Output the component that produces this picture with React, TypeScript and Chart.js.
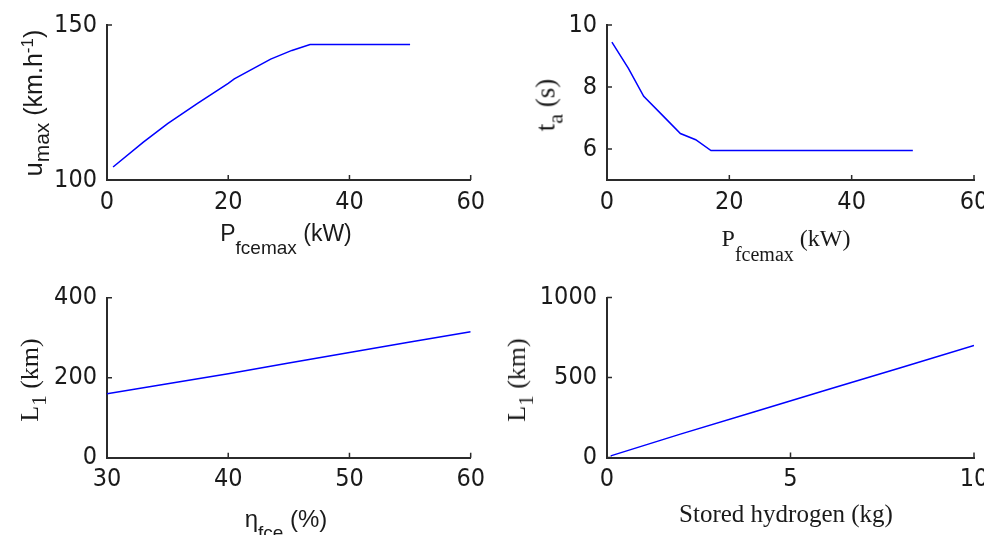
import React, { useEffect, useRef } from "react";
import { Chart, registerables } from "chart.js";

Chart.register(...registerables);

// ---------- data ----------
const pfcMaxSpeedX = [1, 6, 10, 15, 20, 21, 27, 30.5, 33.5, 50];
const maxSpeedY = [104.2, 112.2, 118.2, 124.8, 131.2, 132.6, 139, 141.8, 143.7, 143.7];

const pfcAccelX = [0.8, 3.5, 6, 9, 12, 14.5, 17, 50];
const accelTimeY = [9.45, 8.6, 7.7, 7.1, 6.5, 6.3, 5.95, 5.95];

const efficiencyX = [30, 35, 40, 45, 50, 55, 60];
const rangeEffY = [160, 185, 210, 237, 263, 289, 315];

const hydrogenX = [0.1, 2, 4, 6, 8, 10];
const rangeH2Y = [10, 146, 284, 423, 561, 700];

const tlXTicks = [0, 20, 40, 60];
const tlYTicks = [100, 150];
const trXTicks = [0, 20, 40, 60];
const trYTicks = [6, 8, 10];
const trYRange = [5, 10];
const blXTicks = [30, 40, 50, 60];
const blYTicks = [0, 200, 400];
const brXTicks = [0, 5, 10];
const brYTicks = [0, 500, 1000];

// ---------- styling ----------
const TICK_FONT = "'Liberation Sans Narrow', 'Arial Narrow', 'DejaVu Sans Condensed', sans-serif";
const SANS = "'Liberation Sans', Arial, Helvetica, sans-serif";
const SERIF = "'Liberation Serif', 'Times New Roman', serif";
const AXIS_COLOR = "#2b2b2b";
const TEXT_COLOR = "#1a1a1a";
const LINE_COLOR = "#0000ff";

const inwardTicks = {
  id: "inwardTicks",
  afterDraw(chart: any) {
    const { ctx, chartArea } = chart;
    const len = 5;
    ctx.save();
    ctx.strokeStyle = AXIS_COLOR;
    ctx.lineWidth = 1.5;
    ctx.beginPath();
    const xs = chart.scales.x;
    xs.ticks.forEach((t: any) => {
      const px = xs.getPixelForValue(t.value);
      ctx.moveTo(px, chartArea.bottom);
      ctx.lineTo(px, chartArea.bottom - len);
    });
    const ys = chart.scales.y;
    ys.ticks.forEach((t: any) => {
      const py = ys.getPixelForValue(t.value);
      ctx.moveTo(chartArea.left, py);
      ctx.lineTo(chartArea.left + len, py);
    });
    ctx.stroke();
    ctx.restore();
  },
};

type PanelProps = {
  left: number;
  top: number;
  width: number;
  height: number;
  area: { l: number; t: number; r: number; b: number };
  xs: number[];
  ys: number[];
  xTicks: number[];
  yTicks: number[];
  yRange?: number[];
};

function Panel(p: PanelProps) {
  const ref = useRef<HTMLCanvasElement | null>(null);
  useEffect(() => {
    if (!ref.current) return;
    const yAxisW = p.area.l - p.left;
    const padTop = p.area.t - p.top;
    const padRight = p.left + p.width - p.area.r;
    const xAxisH = p.top + p.height - p.area.b;
    const tickFont = { family: TICK_FONT, size: 25 };
    const yMin = p.yRange ? p.yRange[0] : p.yTicks[0];
    const yMax = p.yRange ? p.yRange[1] : p.yTicks[p.yTicks.length - 1];
    const chart = new Chart(ref.current, {
      type: "line",
      data: {
        datasets: [
          {
            data: p.xs.map((x, i) => ({ x, y: p.ys[i] })),
            borderColor: LINE_COLOR,
            borderWidth: 1.5,
            pointRadius: 0,
            fill: false,
            tension: 0,
          },
        ],
      },
      options: {
        animation: false,
        responsive: false,
        maintainAspectRatio: false,
        devicePixelRatio: 1,
        layout: { padding: { top: padTop, right: padRight, left: 0, bottom: 0 } },
        plugins: { legend: { display: false }, tooltip: { enabled: false } },
        scales: {
          x: {
            type: "linear",
            min: p.xTicks[0],
            max: p.xTicks[p.xTicks.length - 1],
            afterBuildTicks: (s: any) => {
              s.ticks = p.xTicks.map((v) => ({ value: v }));
            },
            afterFit: (s: any) => {
              s.height = xAxisH;
            },
            grid: { display: false, drawTicks: false },
            border: { display: true, color: AXIS_COLOR, width: 2 },
            ticks: {
              font: tickFont,
              color: TEXT_COLOR,
              padding: 7,
              maxRotation: 0,
              autoSkip: false,
              callback: (v: any) => String(v),
            },
          },
          y: {
            type: "linear",
            min: yMin,
            max: yMax,
            afterBuildTicks: (s: any) => {
              s.ticks = p.yTicks.map((v) => ({ value: v }));
            },
            afterFit: (s: any) => {
              s.width = yAxisW;
            },
            grid: { display: false, drawTicks: false },
            border: { display: true, color: AXIS_COLOR, width: 2 },
            ticks: {
              font: tickFont,
              color: TEXT_COLOR,
              padding: 10,
              autoSkip: false,
              callback: (v: any) => String(v),
            },
          },
        },
      },
      plugins: [inwardTicks],
    } as any);
    return () => chart.destroy();
  }, []);
  return (
    <canvas
      ref={ref}
      width={p.width}
      height={p.height}
      style={{ position: "absolute", left: p.left, top: p.top, width: p.width, height: p.height }}
    />
  );
}

type LabelProps = {
  cx: number;
  cy: number;
  rotate?: boolean;
  family: string;
  size: number;
  children: React.ReactNode;
};

function Label({ cx, cy, rotate, family, size, children }: LabelProps) {
  return (
    <div
      style={{
        position: "absolute",
        left: cx,
        top: cy,
        transform: `translate(-50%, -50%)${rotate ? " rotate(-90deg)" : ""}`,
        fontFamily: family,
        fontSize: size,
        lineHeight: 1,
        whiteSpace: "nowrap",
        color: TEXT_COLOR,
      }}
    >
      {children}
    </div>
  );
}

const Sub = ({ size, drop, children }: { size: number; drop: number; children: React.ReactNode }) => (
  <span style={{ position: "relative", top: drop, fontSize: size }}>{children}</span>
);

export default function App() {
  return (
    <div
      style={{
        position: "fixed",
        left: 0,
        top: 0,
        width: 984,
        height: 535,
        overflow: "hidden",
        background: "#ffffff",
      }}
    >
      <Panel
        left={0}
        top={0}
        width={492}
        height={268}
        area={{ l: 107, t: 22.7, r: 474, b: 180 }}
        xs={pfcMaxSpeedX}
        ys={maxSpeedY}
        xTicks={tlXTicks}
        yTicks={tlYTicks}
      />
      <Panel
        left={492}
        top={0}
        width={520}
        height={268}
        area={{ l: 607, t: 22.7, r: 974, b: 180 }}
        xs={pfcAccelX}
        ys={accelTimeY}
        xTicks={trXTicks}
        yTicks={trYTicks}
        yRange={trYRange}
      />
      <Panel
        left={0}
        top={268}
        width={492}
        height={267}
        area={{ l: 107, t: 297.7, r: 474, b: 457.7 }}
        xs={efficiencyX}
        ys={rangeEffY}
        xTicks={blXTicks}
        yTicks={blYTicks}
      />
      <Panel
        left={492}
        top={268}
        width={520}
        height={267}
        area={{ l: 607, t: 297.5, r: 974, b: 457.5 }}
        xs={hydrogenX}
        ys={rangeH2Y}
        xTicks={brXTicks}
        yTicks={brYTicks}
      />

      {/* top-left labels */}
      <Label cx={286} cy={233} family={SANS} size={23}>
        P<Sub size={19} drop={13}>fcemax</Sub> (kW)
      </Label>
      <Label cx={33} cy={103} rotate family={SANS} size={25}>
        u<Sub size={21} drop={7}>max</Sub> (km.h<Sub size={17} drop={-9}>-1</Sub>)
      </Label>

      {/* top-right labels */}
      <Label cx={786} cy={238} family={SERIF} size={24}>
        P<Sub size={20} drop={15}>fcemax</Sub> (kW)
      </Label>
      <Label cx={546} cy={105} rotate family={SERIF} size={27}>
        t<Sub size={22} drop={8}>a</Sub> (s)
      </Label>

      {/* bottom-left labels */}
      <Label cx={286} cy={519} family={SANS} size={24}>
        η<Sub size={19} drop={12}>fce</Sub> (%)
      </Label>
      <Label cx={30} cy={380} rotate family={SERIF} size={26}>
        L<Sub size={21} drop={8}>1</Sub> (km)
      </Label>

      {/* bottom-right labels */}
      <Label cx={786} cy={513} family={SERIF} size={25}>
        Stored hydrogen (kg)
      </Label>
      <Label cx={517} cy={380} rotate family={SERIF} size={26}>
        L<Sub size={21} drop={8}>1</Sub> (km)
      </Label>
    </div>
  );
}
